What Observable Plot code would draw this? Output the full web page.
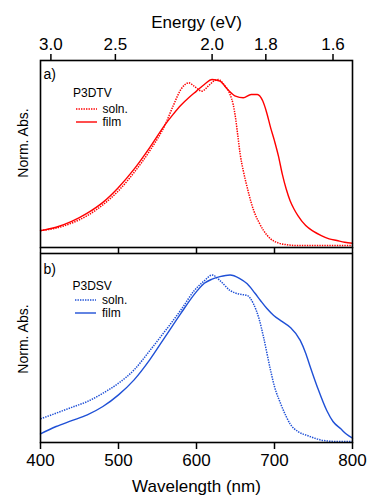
<!DOCTYPE html>
<html><head><meta charset="utf-8">
<script src="https://cdn.jsdelivr.net/npm/d3@7"></script>
<script src="https://cdn.jsdelivr.net/npm/@observablehq/plot@0.6"></script>
<style>
body{margin:0;background:#fff;font-family:"Liberation Sans",Arial,sans-serif;}
#wrap{position:relative;width:367px;height:496px;overflow:hidden;background:#fff}
#wrap svg{overflow:visible;display:block}
.leg{position:absolute;font-size:12px;line-height:11px;height:11px;white-space:nowrap;color:#000}
</style></head><body><div id="wrap"></div>
<script>
// ---- data ----
const wavelengthTicks = [400, 500, 600, 700, 800];
const energyTicks = [3.0, 2.5, 2.0, 1.8, 1.6];

const p3dtvFilmNm = [400,420,440,460,480,500,520,540,560,570,580,590,600,610,620,630,640,650,660,670,678,685,690,695,700,705,710,715,720,725,730,740,750,760,770,780,790,800];
const p3dtvFilmAbs = [0.09,0.11,0.145,0.195,0.26,0.35,0.46,0.59,0.73,0.79,0.845,0.89,0.93,0.97,1.0,0.99,0.94,0.90,0.89,0.91,0.91,0.87,0.80,0.71,0.63,0.54,0.43,0.34,0.27,0.22,0.18,0.12,0.085,0.06,0.04,0.03,0.02,0.014];

const p3dtvSolnNm = [400,420,440,460,480,500,520,540,560,570,580,590,597,607,615,622,628,635,643,647,650,653,656,660,665,670,675,680,686,695,705,715,730,760,800];
const p3dtvSolnAbs = [0.09,0.105,0.135,0.18,0.245,0.33,0.44,0.57,0.73,0.84,0.94,0.98,0.96,0.93,0.96,0.99,1.0,0.97,0.91,0.85,0.77,0.66,0.55,0.45,0.35,0.26,0.19,0.14,0.09,0.04,0.015,0.005,0,0,0];

const p3dsvFilmNm = [400,420,440,460,480,500,520,540,560,580,600,610,620,630,643,655,665,675,682,690,699,710,720,733,740,746,755,767,775,785,792,800];
const p3dsvFilmAbs = [0.046,0.09,0.125,0.16,0.21,0.28,0.37,0.49,0.63,0.77,0.90,0.95,0.975,0.99,1.0,0.98,0.947,0.89,0.847,0.80,0.757,0.72,0.686,0.607,0.53,0.446,0.326,0.186,0.12,0.076,0.045,0.02];

const p3dsvSolnNm = [400,420,440,460,480,500,520,540,560,580,597,610,620,630,643,655,665,673,680,686,695,700,708,715,720,730,742,763,780,800];
const p3dsvSolnAbs = [0.136,0.17,0.205,0.24,0.29,0.35,0.43,0.545,0.665,0.79,0.905,0.965,1.0,0.967,0.907,0.885,0.877,0.827,0.74,0.626,0.426,0.33,0.226,0.15,0.106,0.06,0.036,0.006,0,0];

// ---- style ----
const RED = "#ff0000", BLUE = "#1f50d6";
const FONT = '"Liberation Sans", Arial, sans-serif';
const DOT = "1.4 1.1";
const rows = (nm, abs) => nm.map((x, i) => ({x, y: abs[i]}));
const fmt1 = d3.format(".1f");

const wrap = document.getElementById("wrap");

const topPlot = Plot.plot({
  width: 367, height: 252,
  marginTop: 60, marginBottom: 5, marginLeft: 40, marginRight: 15,
  style: {fontFamily: FONT, background: "transparent", overflow: "visible"},
  x: {domain: [400, 800]},
  y: {domain: [-0.012, 1.1145], axis: null},
  marks: [
    Plot.axisX({anchor: "top", ticks: energyTicks.map(e => 1240 / e), tickSize: 7, tickPadding: 4,
      fontSize: 17, tickFormat: d => fmt1(1240 / d), label: null, strokeWidth: 1.5}),
    Plot.axisX({anchor: "bottom", ticks: wavelengthTicks, tickSize: 6, tickFormat: () => "",
      label: null, strokeWidth: 1.5}),
    Plot.line(rows(p3dtvSolnNm, p3dtvSolnAbs), {x: "x", y: "y", stroke: RED, strokeWidth: 1.5,
      strokeDasharray: DOT, strokeLinecap: "butt", curve: "monotone-x"}),
    Plot.line(rows(p3dtvFilmNm, p3dtvFilmAbs), {x: "x", y: "y", stroke: RED, strokeWidth: 1.4,
      curve: "monotone-x"}),
    Plot.frame({stroke: "black", strokeWidth: 1.6}),
    Plot.text(["Energy (eV)"], {frameAnchor: "top", dy: -38, fontSize: 17, lineAnchor: "middle"}),
    Plot.text(["Norm. Abs."], {frameAnchor: "left", dx: -17, dy: -11, rotate: -90, fontSize: 14,
      textAnchor: "middle", lineAnchor: "middle"}),
    Plot.text(["a)"], {frameAnchor: "top-left", dx: 3, dy: 14, fontSize: 14, textAnchor: "start", lineAnchor: "middle"})
  ]
});
wrap.appendChild(topPlot);

const bottomPlot = Plot.plot({
  width: 367, height: 244,
  marginTop: 1, marginBottom: 54, marginLeft: 40, marginRight: 15,
  style: {fontFamily: FONT, background: "transparent", overflow: "visible"},
  x: {domain: [400, 800]},
  y: {domain: [-0.006, 1.129], axis: null},
  marks: [
    Plot.axisX({anchor: "bottom", ticks: wavelengthTicks, tickSize: 7, tickPadding: 4,
      fontSize: 17, tickFormat: d => String(d), label: null, strokeWidth: 1.5}),
    Plot.line(rows(p3dsvSolnNm, p3dsvSolnAbs), {x: "x", y: "y", stroke: BLUE, strokeWidth: 1.5,
      strokeDasharray: DOT, strokeLinecap: "butt", curve: "monotone-x"}),
    Plot.line(rows(p3dsvFilmNm, p3dsvFilmAbs), {x: "x", y: "y", stroke: BLUE, strokeWidth: 1.4,
      curve: "monotone-x"}),
    Plot.frame({stroke: "black", strokeWidth: 1.6}),
    Plot.text(["Wavelength (nm)"], {frameAnchor: "bottom", dy: 44, fontSize: 17, lineAnchor: "middle"}),
    Plot.text(["Norm. Abs."], {frameAnchor: "left", dx: -17, dy: -9, rotate: -90, fontSize: 14,
      textAnchor: "middle", lineAnchor: "middle"}),
    Plot.text(["b)"], {frameAnchor: "top-left", dx: 3, dy: 16, fontSize: 14, textAnchor: "start", lineAnchor: "middle"})
  ]
});
wrap.appendChild(bottomPlot);

// ---- legends (HTML overlay) ----
function legend(title, color, x, yTitle, ySoln, yFilm) {
  const t = document.createElement("div");
  t.className = "leg"; t.textContent = title;
  t.style.left = x + "px"; t.style.top = (yTitle - 5.5) + "px";
  wrap.appendChild(t);
  [["soln.", ySoln, DOT], ["film", yFilm, null]].forEach(([lab, y, dash]) => {
    const ns = "http://www.w3.org/2000/svg";
    const s = document.createElementNS(ns, "svg");
    s.setAttribute("width", 22); s.setAttribute("height", 4);
    s.style.position = "absolute"; s.style.left = (x + 2.5) + "px"; s.style.top = (y - 2) + "px";
    const l = document.createElementNS(ns, "line");
    l.setAttribute("x1", 0); l.setAttribute("x2", 21); l.setAttribute("y1", 2); l.setAttribute("y2", 2);
    l.setAttribute("stroke", color); l.setAttribute("stroke-width", dash ? 1.5 : 1.4);
    if (dash) l.setAttribute("stroke-dasharray", dash);
    s.appendChild(l); wrap.appendChild(s);
    const d = document.createElement("div");
    d.className = "leg"; d.textContent = lab;
    d.style.left = (x + 29.5) + "px"; d.style.top = (y - 5.5) + "px";
    wrap.appendChild(d);
  });
}
legend("P3DTV", RED, 73, 93.5, 109, 122);
legend("P3DSV", BLUE, 72.5, 286, 300, 313);
</script>
</body></html>
